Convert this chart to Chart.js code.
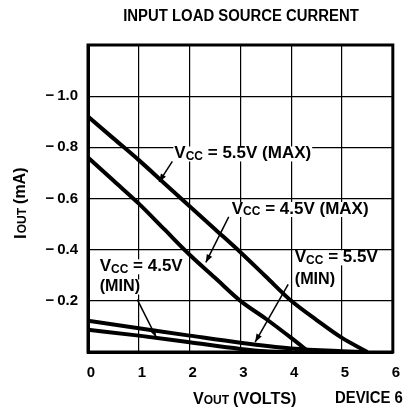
<!DOCTYPE html>
<html><head><meta charset="utf-8">
<script src="https://cdn.jsdelivr.net/npm/chart.js@4/dist/chart.umd.min.js"></script>
<style>html,body{margin:0;padding:0;background:#fff}#wrap{width:409px;height:411px}</style>
</head><body><div id="wrap"><canvas id="c" width="409" height="411"></canvas></div>
<script>
const titleText = 'INPUT LOAD SOURCE CURRENT';
const xTicks = [0,1,2,3,4,5,6];
const yTicks = [-1.0,-0.8,-0.6,-0.4,-0.2];

const vMax55 = [0, 0.5, 1, 1.5, 2, 2.5, 3, 3.5, 4, 4.5, 5, 5.5];
const iMax55 = [-0.92, -0.835, -0.75, -0.66, -0.57, -0.48, -0.39, -0.295, -0.20, -0.125, -0.055, 0];
const vMax45 = [0, 0.5, 1, 1.5, 2, 2.5, 3, 3.5, 4, 4.35];
const iMax45 = [-0.76, -0.67, -0.58, -0.48, -0.38, -0.29, -0.20, -0.13, -0.055, 0];
const vMin55 = [0, 1, 2, 3, 4, 5, 5.4];
const iMin55 = [-0.122, -0.093, -0.064, -0.036, -0.014, -0.003, 0];
const vMin45 = [0, 1, 2, 3, 3.5, 4];
const iMin45 = [-0.087, -0.064, -0.038, -0.012, -0.003, 0];

const seriesNames = ['VCC = 5.5V (MAX)','VCC = 4.5V (MAX)','VCC = 5.5V (MIN)','VCC = 4.5V (MIN)'];

function pts(xs, ys){ return xs.map((x,i)=>({x:x, y:ys[i]})); }

const FONT = "'Liberation Sans', Arial, Helvetica, sans-serif";

function txt(ctx, s, x, y, size, sx){
  ctx.save();
  ctx.font = 'bold ' + size + 'px ' + FONT;
  ctx.textBaseline = 'middle'; ctx.textAlign = 'left';
  ctx.translate(x, y); ctx.scale(sx, 1);
  ctx.fillText(s, 0, 0);
  const w = ctx.measureText(s).width * sx;
  ctx.restore();
  return w;
}
function measure(ctx, s, size, sx){
  ctx.font = 'bold ' + size + 'px ' + FONT;
  return ctx.measureText(s).width * sx;
}
function bg(ctx, x, y, w){
  ctx.save(); ctx.fillStyle = '#fff';
  ctx.fillRect(x - 1, y - 7, w + 2, 15);
  ctx.restore();
}
function drawVcc(ctx, x, y, rest){
  const tot = measure(ctx, 'V', 17, 1) + measure(ctx, 'CC', 12, 1) + measure(ctx, rest, 17, 1);
  bg(ctx, x, y, tot);
  let w = txt(ctx, 'V', x, y, 17, 1);
  w += txt(ctx, 'CC', x + w, y + 3, 12, 1);
  txt(ctx, rest, x + w, y, 17, 1);
}
function drawPlain(ctx, s, x, y){
  bg(ctx, x, y, measure(ctx, s, 17, 0.95));
  txt(ctx, s, x, y, 17, 0.95);
}
function arrow(ctx, x1, y1, x2, y2){
  ctx.beginPath(); ctx.moveTo(x1,y1); ctx.lineTo(x2,y2);
  ctx.lineWidth = 1.5; ctx.strokeStyle = '#000'; ctx.stroke();
  const a = Math.atan2(y2-y1, x2-x1), L = 8, W = 3;
  ctx.beginPath();
  ctx.moveTo(x2, y2);
  ctx.lineTo(x2 - L*Math.cos(a) + W*Math.sin(a), y2 - L*Math.sin(a) - W*Math.cos(a));
  ctx.lineTo(x2 - L*Math.cos(a) - W*Math.sin(a), y2 - L*Math.sin(a) + W*Math.cos(a));
  ctx.closePath(); ctx.fillStyle = '#000'; ctx.fill();
}

const decor = {
  id: 'decor',
  afterDraw(chart){
    const ctx = chart.ctx, ca = chart.chartArea;
    const xs = chart.scales.x, ys = chart.scales.y;
    const X = v => xs.getPixelForValue(v), Y = v => ys.getPixelForValue(v);
    ctx.save();
    ctx.lineWidth = 3; ctx.strokeStyle = '#000';
    ctx.strokeRect(ca.left, ca.top, ca.right - ca.left, ca.bottom - ca.top);
    ctx.fillStyle = '#000';
    // title
    const tw = measure(ctx, titleText, 16, 0.93);
    txt(ctx, titleText, 241 - tw/2, 17, 16, 0.93);
    // annotations
    drawVcc(ctx, X(1.70), Y(-0.776), ' = 5.5V (MAX)');
    drawVcc(ctx, X(2.83), Y(-0.559), ' = 4.5V (MAX)');
    drawVcc(ctx, X(4.07), Y(-0.37), ' = 5.5V');
    drawPlain(ctx, '(MIN)', X(4.07), Y(-0.283));
    drawVcc(ctx, X(0.23), Y(-0.335), ' = 4.5V');
    drawPlain(ctx, '(MIN)', X(0.23), Y(-0.256));
    arrow(ctx, X(1.66), Y(-0.745), X(1.40), Y(-0.665));
    arrow(ctx, X(2.77), Y(-0.528), X(2.32), Y(-0.350));
    arrow(ctx, X(3.94), Y(-0.264), X(3.29), Y(-0.039));
    arrow(ctx, X(0.97), Y(-0.205), X(1.34), Y(-0.059));
    // x axis title
    let x0 = 193, y0 = 399;
    let w = txt(ctx, 'V', x0, y0, 17, 0.95);
    w += txt(ctx, 'OUT', x0 + w, y0 + 2, 12, 1) + 4;
    txt(ctx, '(VOLTS)', x0 + w, y0, 17, 0.95);
    txt(ctx, 'DEVICE 6', 335, y0, 16, 0.93);
    // y axis title
    ctx.translate(21, 239); ctx.rotate(-Math.PI/2);
    w = txt(ctx, 'I', 0, 0, 17, 1) + 1;
    w += txt(ctx, 'OUT', w, 2, 12, 1) + 4;
    txt(ctx, '(mA)', w, 0, 16, 1);
    ctx.restore();
  }
};

const ds = (name, xs, ys) => ({
  label: name, data: pts(xs, ys), borderColor: '#000', borderWidth: 4,
  pointRadius: 0, fill: false, tension: 0.4, cubicInterpolationMode: 'monotone'
});

new Chart(document.getElementById('c'), {
  type: 'line',
  data: { datasets: [
    ds(seriesNames[0], vMax55, iMax55),
    ds(seriesNames[1], vMax45, iMax45),
    ds(seriesNames[2], vMin55, iMin55),
    ds(seriesNames[3], vMin45, iMin45)
  ]},
  options: {
    responsive: false, animation: false, devicePixelRatio: 1,
    layout: { padding: { top: 45, right: 13, left: 0, bottom: 0 } },
    plugins: { legend: { display: false }, tooltip: { enabled: false } },
    scales: {
      x: {
        type: 'linear', min: 0, max: 6,
        afterFit(s){ s.height = 59; },
        afterBuildTicks(s){ s.ticks = xTicks.map(v => ({value: v})); },
        grid: { color: '#000', lineWidth: 1.2, drawTicks: false },
        border: { display: true, color: '#000', width: 3 },
        ticks: { color: '#000', padding: 12, labelOffset: 3, font: { family: FONT, size: 15, weight: 'bold' }, callback: v => String(v) }
      },
      y: {
        type: 'linear', min: -1.2, max: 0, reverse: true,
        afterFit(s){ s.width = 88; },
        afterBuildTicks(s){ s.ticks = [-1.2, ...yTicks, 0].map(v => ({value: v})); },
        grid: { color: '#000', lineWidth: 1.2, drawTicks: false },
        border: { display: true, color: '#000', width: 3 },
        ticks: { color: '#000', padding: 10, font: { family: FONT, size: 15, weight: 'bold' },
          callback: v => (yTicks.some(t => Math.abs(t - v) < 1e-6) ? '\u2212\u2009' + Math.abs(v).toFixed(1) : '') }
      }
    }
  },
  plugins: [decor]
});
</script></body></html>
